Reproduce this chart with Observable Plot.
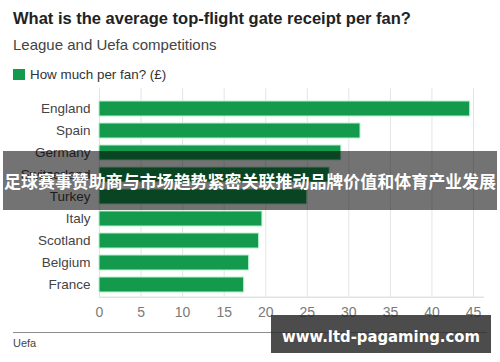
<!DOCTYPE html>
<html>
<head>
<meta charset="utf-8">
<script src="https://cdn.jsdelivr.net/npm/d3@7"></script>
<script src="https://cdn.jsdelivr.net/npm/@observablehq/plot@0.6"></script>
<style>
  html, body { margin: 0; padding: 0; background: #fff; }
  #wrap { position: relative; width: 500px; height: 362px; overflow: hidden; background: #fff; }
  #chart { position: absolute; left: 0; top: 88px; }
  #overlay { position: absolute; left: 0; top: 0; }
</style>
</head>
<body>
<div id="wrap">
  <div id="chart"></div>
</div>
<script>
const countries = ["England", "Spain", "Germany", "Switzerland", "Turkey", "Italy", "Scotland", "Belgium", "France"];
const values = [44.6, 31.4, 29.1, 27.7, 25.0, 19.6, 19.2, 18.0, 17.4];
const xTicks = [0, 5, 10, 15, 20, 25, 30, 35, 40, 45];

const titleText = "What is the average top-flight gate receipt per fan?";
const subtitleText = "League and Uefa competitions";
const legendText = "How much per fan? (£)";
const sourceText = "Uefa";
const bannerText = "足球赛事赞助商与市场趋势紧密关联推动品牌价值和体育产业发展";
const watermarkText = "www.ltd-pagaming.com";

const data = countries.map((c, i) => ({country: c, value: values[i]}));

const chart = Plot.plot({
  width: 500,
  height: 240,
  marginTop: 8.4,
  marginBottom: 31.3,
  marginLeft: 99,
  marginRight: 17,
  style: {fontFamily: "'Liberation Sans', Arial, sans-serif", background: "transparent"},
  x: {domain: [0, 46.2], label: null},
  y: {domain: countries, paddingInner: 0.3, paddingOuter: 0.16, label: null},
  marks: [
    Plot.gridX(xTicks, {stroke: "#e4e4e4", strokeOpacity: 1, insetTop: -8}),
    Plot.frame({anchor: "bottom", stroke: "#d6d6d6"}),
    Plot.barX(data, {x: "value", y: "country", fill: "#149a4c", stroke: "#b8f0d0", strokeWidth: 1}),
    Plot.axisX(xTicks, {tickSize: 0, tickPadding: 10, fontSize: 14, fill: "#7a7a7a", label: null}),
    Plot.axisY({tickSize: 0, tickPadding: 9, fontSize: 13.5, fill: "#444", label: null})
  ]
});
document.getElementById("chart").appendChild(chart);

// Overlay: titles, legend, footer, and the banner/watermark seen on the picture
const svg = d3.select("#wrap").append("svg")
  .attr("id", "overlay").attr("width", 500).attr("height", 362)
  .style("font-family", "'Liberation Sans', Arial, sans-serif");

svg.append("text").attr("x", 13).attr("y", 24)
  .attr("font-size", 16.5).attr("font-weight", "bold").attr("fill", "#222")
  .text(titleText);
svg.append("text").attr("x", 13).attr("y", 50)
  .attr("font-size", 15).attr("fill", "#444")
  .text(subtitleText);
svg.append("rect").attr("x", 13).attr("y", 69).attr("width", 12).attr("height", 11)
  .attr("fill", "#149a4c");
svg.append("text").attr("x", 30).attr("y", 79)
  .attr("font-size", 13.4).attr("fill", "#333")
  .text(legendText);

svg.append("line").attr("x1", 13).attr("x2", 487).attr("y1", 332.5).attr("y2", 332.5)
  .attr("stroke", "#8c8c8c").attr("stroke-width", 1);
svg.append("text").attr("x", 13).attr("y", 347)
  .attr("font-size", 11).attr("fill", "#444")
  .text(sourceText);

// banner
svg.append("rect").attr("x", 3).attr("y", 151).attr("width", 494).attr("height", 59)
  .attr("fill", "rgba(0,0,0,0.55)");
svg.append("text").attr("x", 4).attr("y", 188)
  .attr("font-family", "'Noto Sans CJK SC', sans-serif")
  .attr("font-size", 17).attr("font-weight", "bold").attr("fill", "#fff")
  .attr("textLength", 492).attr("lengthAdjust", "spacingAndGlyphs")
  .text(bannerText);

// watermark
svg.append("rect").attr("x", 271).attr("y", 315).attr("width", 220).attr("height", 38)
  .attr("fill", "rgba(45,45,45,0.85)");
svg.append("text").attr("x", 282).attr("y", 342)
  .attr("font-family", "'DejaVu Sans', sans-serif")
  .attr("font-size", 15).attr("font-weight", "bold").attr("fill", "#fff")
  .attr("textLength", 198).attr("lengthAdjust", "spacingAndGlyphs")
  .text(watermarkText);
</script>
</body>
</html>
